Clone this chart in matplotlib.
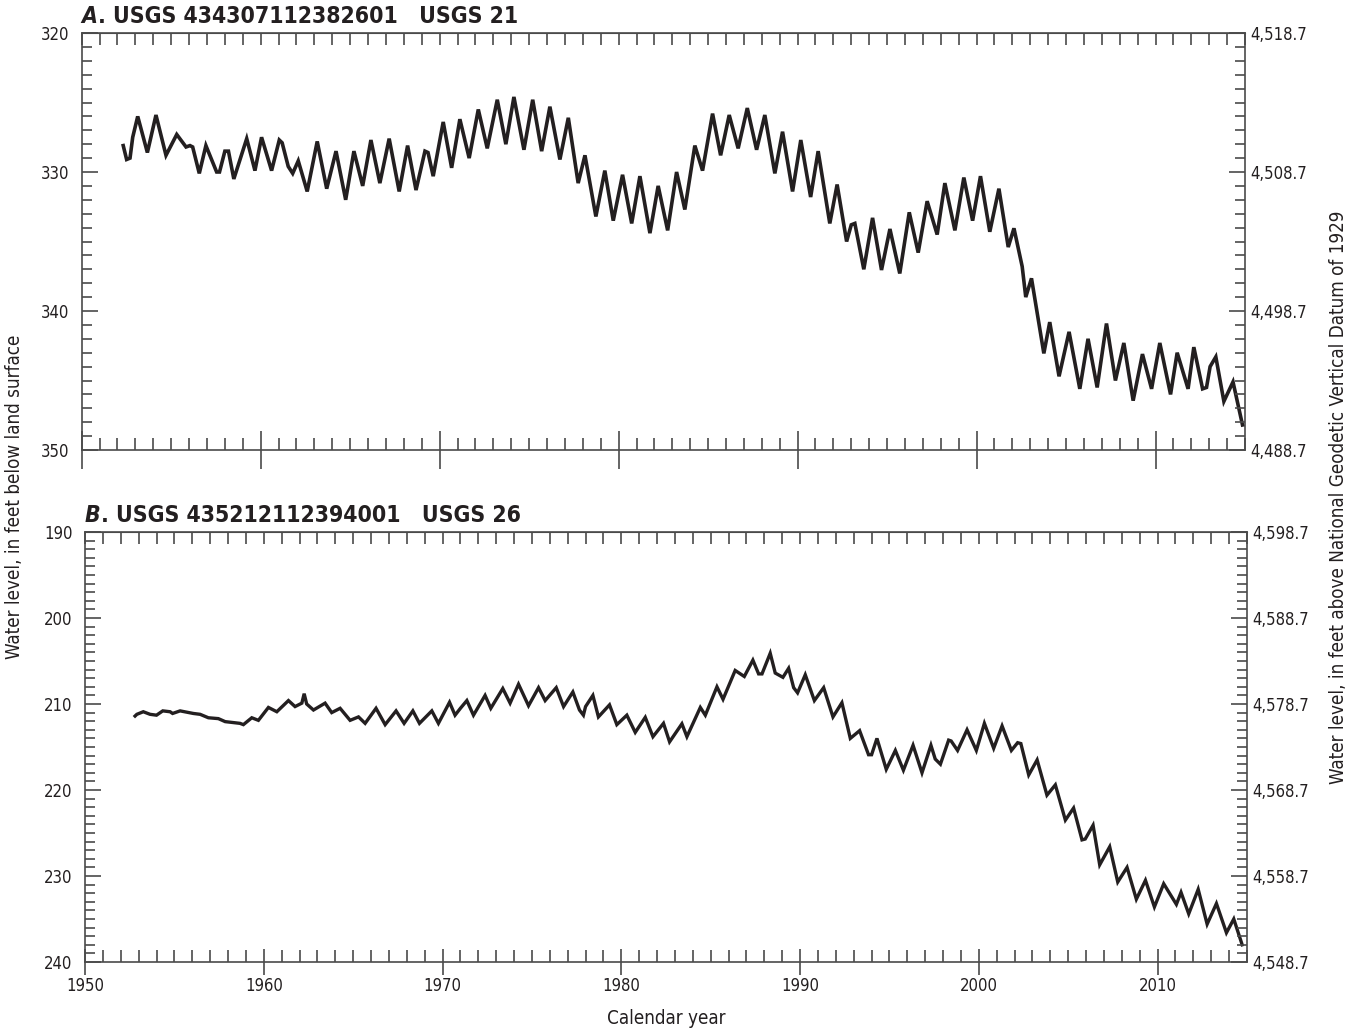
import numpy as np
import matplotlib
matplotlib.use("Agg")
import matplotlib.pyplot as plt
from matplotlib import font_manager as fm
from matplotlib.ticker import MultipleLocator, FixedLocator, FuncFormatter

# narrow sans, close to the Univers Condensed of the original
fonts = fm.fontManager.ttflist
names = {f.name for f in fonts}
if 'Liberation Sans Narrow' in names:
    FAMILY, STRETCH = 'Liberation Sans Narrow', 'normal'
elif any(f.name == 'DejaVu Sans' and f.stretch in ('condensed', 'semi-condensed') for f in fonts):
    FAMILY, STRETCH = 'DejaVu Sans', 'condensed'
elif any('Condensed' in n or 'Narrow' in n for n in names):
    FAMILY, STRETCH = sorted(n for n in names if 'Condensed' in n or 'Narrow' in n)[0], 'normal'
else:
    FAMILY, STRETCH = 'Roboto', 'normal'
plt.rcParams['font.family'] = [FAMILY, 'DejaVu Sans']
plt.rcParams['font.stretch'] = STRETCH

# A. USGS 21 -- water level, feet below land surface (peaks / troughs)
years_a = [1952.32, 1952.51, 1952.70, 1952.85, 1953.13, 1953.67, 1954.15, 1954.71, 1955.31, 1955.83,
           1956.05, 1956.20, 1956.57, 1956.94, 1957.54, 1957.70, 1958.00, 1958.20, 1958.50, 1959.22,
           1959.68, 1960.05, 1960.61, 1961.04, 1961.20, 1961.54, 1961.79, 1962.10, 1962.60, 1963.16,
           1963.69, 1964.21, 1964.75, 1965.21, 1965.70, 1966.16, 1966.66, 1967.18, 1967.74, 1968.21,
           1968.68, 1969.18, 1969.35, 1969.64, 1970.20, 1970.67, 1971.13, 1971.65, 1972.16, 1972.66,
           1973.22, 1973.70, 1974.15, 1974.71, 1975.20, 1975.70, 1976.16, 1976.72, 1977.19, 1977.74,
           1978.12, 1978.73, 1979.23, 1979.70, 1980.22, 1980.73, 1981.19, 1981.75, 1982.21, 1982.74,
           1983.24, 1983.70, 1984.26, 1984.69, 1985.25, 1985.70, 1986.18, 1986.68, 1987.19, 1987.71,
           1988.17, 1988.73, 1989.16, 1989.72, 1990.18, 1990.73, 1991.15, 1991.80, 1992.21, 1992.74,
           1993.00, 1993.20, 1993.70, 1994.19, 1994.69, 1995.16, 1995.71, 1996.24, 1996.74, 1997.24,
           1997.80, 1998.23, 1998.79, 1999.29, 1999.78, 2000.22, 2000.74, 2001.25, 2001.77, 2002.09,
           2002.55, 2002.75, 2003.07, 2003.76, 2004.09, 2004.61, 2005.17, 2005.77, 2006.23, 2006.74,
           2007.26, 2007.76, 2008.23, 2008.75, 2009.27, 2009.78, 2010.24, 2010.84, 2011.21, 2011.82,
           2012.14, 2012.63, 2012.85, 2013.05, 2013.37, 2013.82, 2014.33, 2014.86]
depth_a = [328.1, 329.1, 329.0, 327.5, 326.0, 328.6, 325.9, 328.8, 327.3, 328.2,
           328.1, 328.2, 330.1, 328.1, 330.0, 330.0, 328.5, 328.5, 330.5, 327.6,
           329.9, 327.5, 329.9, 327.7, 327.9, 329.6, 330.1, 329.2, 331.4, 327.8,
           331.2, 328.5, 332.0, 328.5, 331.0, 327.7, 330.8, 327.6, 331.4, 328.1,
           331.3, 328.5, 328.6, 330.3, 326.4, 329.7, 326.2, 329.0, 325.5, 328.3,
           324.8, 328.0, 324.6, 328.4, 324.8, 328.5, 325.3, 329.1, 326.1, 330.8,
           328.8, 333.2, 329.9, 333.5, 330.2, 333.7, 330.3, 334.4, 331.0, 334.2,
           330.0, 332.7, 328.1, 329.9, 325.8, 328.8, 325.9, 328.3, 325.4, 328.4,
           325.9, 330.1, 327.1, 331.4, 327.7, 331.8, 328.5, 333.7, 330.9, 335.0,
           333.8, 333.7, 337.0, 333.3, 337.05, 334.1, 337.3, 332.9, 335.8, 332.1,
           334.5, 330.8, 334.2, 330.4, 333.5, 330.3, 334.3, 331.2, 335.4, 334.05,
           336.8, 339.0, 337.65, 343.05, 340.8, 344.7, 341.5, 345.6, 342.0, 345.5,
           340.9, 345.0, 342.3, 346.45, 343.1, 345.6, 342.3, 346.0, 343.0, 345.6,
           342.6, 345.6, 345.5, 344.0, 343.3, 346.5, 345.1, 348.2]

# B. USGS 26
years_b = [1952.80, 1952.90, 1953.26, 1953.64, 1954.00, 1954.35, 1954.76, 1954.90, 1955.32, 1956.06,
           1956.44, 1956.90, 1957.46, 1957.84, 1958.67, 1958.86, 1959.33, 1959.70, 1960.26, 1960.73,
           1961.38, 1961.75, 1962.13, 1962.26, 1962.40, 1962.78, 1963.43, 1963.80, 1964.27, 1964.83,
           1965.30, 1965.67, 1966.28, 1966.79, 1967.40, 1967.85, 1968.34, 1968.71, 1969.40, 1969.77,
           1970.39, 1970.70, 1971.00, 1971.36, 1971.73, 1972.38, 1972.70, 1973.37, 1973.78, 1974.25,
           1974.81, 1975.37, 1975.74, 1976.36, 1976.77, 1977.29, 1977.66, 1977.88, 1978.00, 1978.41,
           1978.72, 1979.34, 1979.75, 1980.31, 1980.78, 1981.34, 1981.77, 1982.36, 1982.70, 1983.39,
           1983.67, 1984.42, 1984.70, 1985.35, 1985.69, 1986.37, 1986.88, 1987.36, 1987.68, 1987.87,
           1988.33, 1988.61, 1989.04, 1989.36, 1989.64, 1989.86, 1990.29, 1990.80, 1991.32, 1991.84,
           1992.34, 1992.81, 1993.33, 1993.83, 1994.00, 1994.30, 1994.82, 1995.33, 1995.78, 1996.32,
           1996.82, 1997.32, 1997.56, 1997.85, 1998.31, 1998.45, 1998.81, 1999.34, 1999.86, 2000.31,
           2000.83, 2001.30, 2001.82, 2002.17, 2002.35, 2002.79, 2003.26, 2003.81, 2004.28, 2004.84,
           2005.30, 2005.77, 2005.95, 2006.39, 2006.76, 2007.32, 2007.77, 2008.29, 2008.81, 2009.32,
           2009.82, 2010.34, 2011.05, 2011.31, 2011.74, 2012.27, 2012.77, 2013.29, 2013.85, 2014.26,
           2014.73]
depth_b = [211.4, 211.2, 210.9, 211.2, 211.3, 210.8, 210.9, 211.1, 210.8, 211.1,
           211.2, 211.6, 211.7, 212.05, 212.25, 212.4, 211.6, 211.9, 210.4, 210.9,
           209.6, 210.3, 209.9, 208.8, 210.0, 210.7, 209.9, 211.0, 210.5, 211.9,
           211.5, 212.25, 210.5, 212.4, 210.8, 212.25, 210.8, 212.25, 210.8, 212.25,
           209.8, 211.3, 210.5, 209.6, 211.3, 209.0, 210.5, 208.2, 209.9, 207.7,
           210.2, 208.1, 209.6, 208.1, 210.3, 208.6, 210.7, 211.3, 210.3, 209.0,
           211.5, 210.1, 212.4, 211.3, 213.3, 211.55, 213.8, 212.25, 214.4, 212.3,
           213.8, 210.4, 211.3, 208.0, 209.45, 206.1, 206.8, 204.9, 206.5, 206.5,
           204.1, 206.4, 206.9, 205.85, 208.1, 208.7, 206.6, 209.6, 208.1, 211.5,
           209.85, 214.0, 213.1, 215.9, 215.9, 214.0, 217.6, 215.4, 217.7, 214.8,
           218.0, 214.8, 216.4, 217.0, 214.2, 214.3, 215.4, 213.0, 215.4, 212.25,
           215.15, 212.55, 215.4, 214.5, 214.6, 218.25, 216.5, 220.6, 219.4, 223.5,
           222.1, 225.8, 225.7, 224.1, 228.7, 226.6, 230.7, 229.0, 232.7, 230.5,
           233.6, 230.9, 233.3, 231.9, 234.4, 231.55, 235.6, 233.2, 236.6, 235.0,
           238.0]

# panel settings: (label, site, depth range, land surface altitude)
panels = [
    ("A", ". USGS 434307112382601   USGS 21", (320, 350), 4838.7),
    ("B", ". USGS 435212112394001   USGS 26", (190, 240), 4788.7),
]
year_ticks = list(range(1950, 2011, 10))

INK = '#231f20'
AXC = '#4a4a4a'

W, H = 1356, 1033
fig = plt.figure(figsize=(W / 100, H / 100), dpi=100)
ax_a = fig.add_axes([81.7 / W, 1 - 450 / H, (1245 - 81.7) / W, 417 / H])
ax_b = fig.add_axes([85 / W, 1 - 962 / H, (1247 - 85) / W, 430 / H])


def style_panel(ax, label, site, yrange, land, show_years, major_len):
    ax.set_xlim(1950, 2015)
    ax.set_ylim(yrange[1], yrange[0])
    for s in ax.spines.values():
        s.set_color(AXC)
        s.set_linewidth(1.2)

    ax.xaxis.set_major_locator(FixedLocator(year_ticks))
    ax.xaxis.set_minor_locator(MultipleLocator(1))
    ax.yaxis.set_major_locator(MultipleLocator(10))
    ax.yaxis.set_minor_locator(MultipleLocator(1))
    ax.tick_params(axis='x', which='major', direction='inout', length=major_len, width=1.2,
                   color=AXC, top=False, labelbottom=show_years, labelsize=12,
                   labelcolor=INK, pad=1)
    ax.tick_params(axis='x', which='minor', direction='in', length=8.6, width=1.2,
                   color=AXC, top=False)
    ax.tick_params(axis='y', which='major', direction='in', length=11.5, width=1.2,
                   color=AXC, labelsize=12, labelcolor=INK, pad=9, right=False)
    ax.tick_params(axis='y', which='minor', direction='in', length=7.2, width=1.2,
                   color=AXC, right=False)

    # top edge: yearly ticks only
    top = ax.secondary_xaxis('top')
    top.xaxis.set_major_locator(MultipleLocator(1))
    top.tick_params(direction='in', length=8.6, width=1.2, color=AXC, labeltop=False)
    top.spines['top'].set_color(AXC)

    # right edge: altitude above NGVD 1929
    rax = ax.twinx()
    rax.set_ylim(land - yrange[1], land - yrange[0])
    rax.yaxis.set_major_locator(FixedLocator(np.arange(land - yrange[1], land - yrange[0] + 0.01, 10)))
    rax.yaxis.set_minor_locator(FixedLocator(np.arange(land - yrange[1], land - yrange[0] + 0.01, 1)))
    rax.yaxis.set_major_formatter(FuncFormatter(lambda v, p: f"{v:,.1f}"))
    rax.tick_params(which='major', direction='in', length=11.5, width=1.2, color=AXC,
                    labelsize=12, labelcolor=INK, pad=4)
    rax.tick_params(which='minor', direction='in', length=7.2, width=1.2, color=AXC)
    for s in rax.spines.values():
        s.set_visible(False)

    t1 = ax.text(0, 1.012, label, transform=ax.transAxes, fontsize=16.5, fontweight='bold',
                 fontstyle='italic', color=INK, va='bottom', ha='left')
    ax.annotate(site, xy=(1, 0), xycoords=t1, fontsize=16.5, fontweight='bold', color=INK,
                va='bottom', ha='left')


style_panel(ax_a, *panels[0], show_years=False, major_len=28)
style_panel(ax_b, *panels[1], show_years=True, major_len=19)

ax_a.plot(years_a, depth_a, color=INK, lw=2.6, solid_joinstyle='miter', zorder=3)
ax_b.plot(years_b, depth_b, color=INK, lw=2.4, solid_joinstyle='miter', zorder=3)

fig.text(15 / W, 1 - 497 / H, "Water level, in feet below land surface", rotation=90,
         ha='center', va='center', fontsize=13.5, color=INK)
fig.text(1338 / W, 1 - 497 / H, "Water level, in feet above National Geodetic Vertical Datum of 1929",
         rotation=90, ha='center', va='center', fontsize=13.5, color=INK)
fig.text(666 / W, 1 - 1018 / H, "Calendar year", ha='center', va='center', fontsize=13.5, color=INK)

fig.savefig("out.png", dpi=100)
